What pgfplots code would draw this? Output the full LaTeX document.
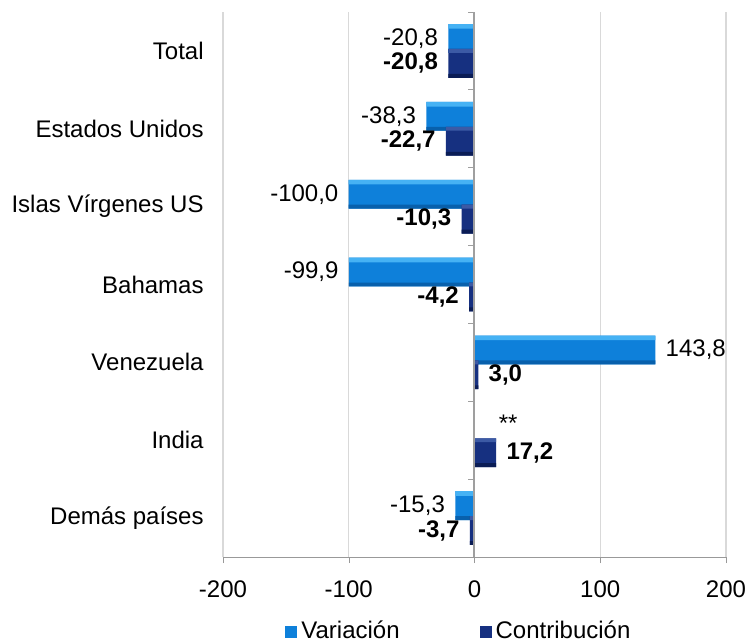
\documentclass[border=0pt]{standalone}
\usepackage{pgfplots}
\pgfplotsset{compat=1.18}
\usepackage{pgfplotstable}
\usepackage{fontspec}
\setmainfont{Liberation Sans}
\usetikzlibrary{calc}

\definecolor{vmain}{RGB}{14,128,218}
\definecolor{vtop}{RGB}{70,178,244}
\definecolor{vbot}{RGB}{8,96,172}
\definecolor{cmain}{RGB}{22,48,128}
\definecolor{ctop}{RGB}{60,90,165}
\definecolor{cbot}{RGB}{10,28,85}

% categories: 6 = Total (top) ... 0 = Demas paises
% yv / yc: bar centres of Variacion (above) and Contribucion (below)
% India has no Variacion bar (shown as **)
\pgfplotstableread{
yv    yc    v      c
6.16  5.84  -20.8  -20.8
5.16  4.84  -38.3  -22.7
4.16  3.84  -100.0 -10.3
3.16  2.84  -99.9  -4.2
2.16  1.84  143.8  3.0
1.16  0.84  nan    17.2
0.16  -0.16 -15.3  -3.7
}\datatable

\begin{document}
\fontsize{12}{14}\selectfont
\begin{tikzpicture}
\begin{axis}[
    name=ax,
    scale only axis,
    width=251.5pt, height=272.5pt,
    xbar,
    bar width=0.37,
    bar shift=0pt,
    xmin=-200, xmax=200,
    xtick={-200,-100,0,100,200},
    ymin=-0.5, ymax=6.5,
    ytick={0,...,6},
    yticklabels={Demás países,India,Venezuela,Bahamas,Islas Vírgenes US,Estados Unidos,Total},
    axis x line*=bottom,
    axis y line*=left,
    y axis line style={draw=none},
    x axis line style={gray!80},
    xmajorgrids,
    grid style={gray!30, line width=0.7pt},
    tick align=outside,
    major tick length=3pt,
    x tick style={gray!80},
    y tick style={draw=none},
    xticklabel style={yshift=-4.5pt},
    yticklabel style={xshift=-2.5pt},
    point meta=x,
    nodes near coords align={horizontal},
    nodes near coords style={/pgf/number format/fixed, /pgf/number format/fixed zerofill,
        /pgf/number format/precision=1, /pgf/number format/use comma, inner xsep=5pt},
    unbounded coords=discard,
    legend style={at={(0.471,-0.137)}, anchor=center, draw=none, fill=none,
        legend columns=2,
        /tikz/every even column/.append style={column sep=38pt}},
    legend image code/.code={\fill[#1] (0pt,-3pt) rectangle (6pt,3pt);},
    /pgf/number format/assume math mode=true,
  ]
  % Variacion: bar with a light top edge and darker bottom edge
  \addplot[draw=none, fill=vmain, nodes near coords]
    table[x=v, y=yv] {\datatable};
  \addplot[forget plot, draw=none, fill=vtop, bar width=0.06]
    table[x=v, y expr=\thisrow{yv}+0.155] {\datatable};
  \addplot[forget plot, draw=none, fill=vbot, bar width=0.05]
    table[x=v, y expr=\thisrow{yv}-0.16] {\datatable};
  % Contribucion
  \addplot[draw=none, fill=cmain, nodes near coords,
      every node near coord/.append style={font=\bfseries}]
    table[x=c, y=yc] {\datatable};
  \addplot[forget plot, draw=none, fill=ctop, bar width=0.05]
    table[x=c, y expr=\thisrow{yc}+0.16] {\datatable};
  \addplot[forget plot, draw=none, fill=cbot, bar width=0.05]
    table[x=c, y expr=\thisrow{yc}-0.16] {\datatable};
  \legend{Variación, Contribución}
  \node[anchor=west, inner sep=0pt] at (axis cs:19,1.22) {**};
  \draw[gray!75, line width=1pt] (axis cs:0,-0.5) -- (axis cs:0,6.5);
  \pgfplotsinvokeforeach{0.5,1.5,2.5,3.5,4.5,5.5,6.5}{
    \draw[gray!75] (axis cs:0,#1) -- ++(-3pt,0pt);
  }
\end{axis}
\pgfresetboundingbox
\path ($(ax.south west)+(-111.5pt,-43pt)$) rectangle ($(ax.north east)+(11pt,6pt)$);
\end{tikzpicture}
\end{document}
